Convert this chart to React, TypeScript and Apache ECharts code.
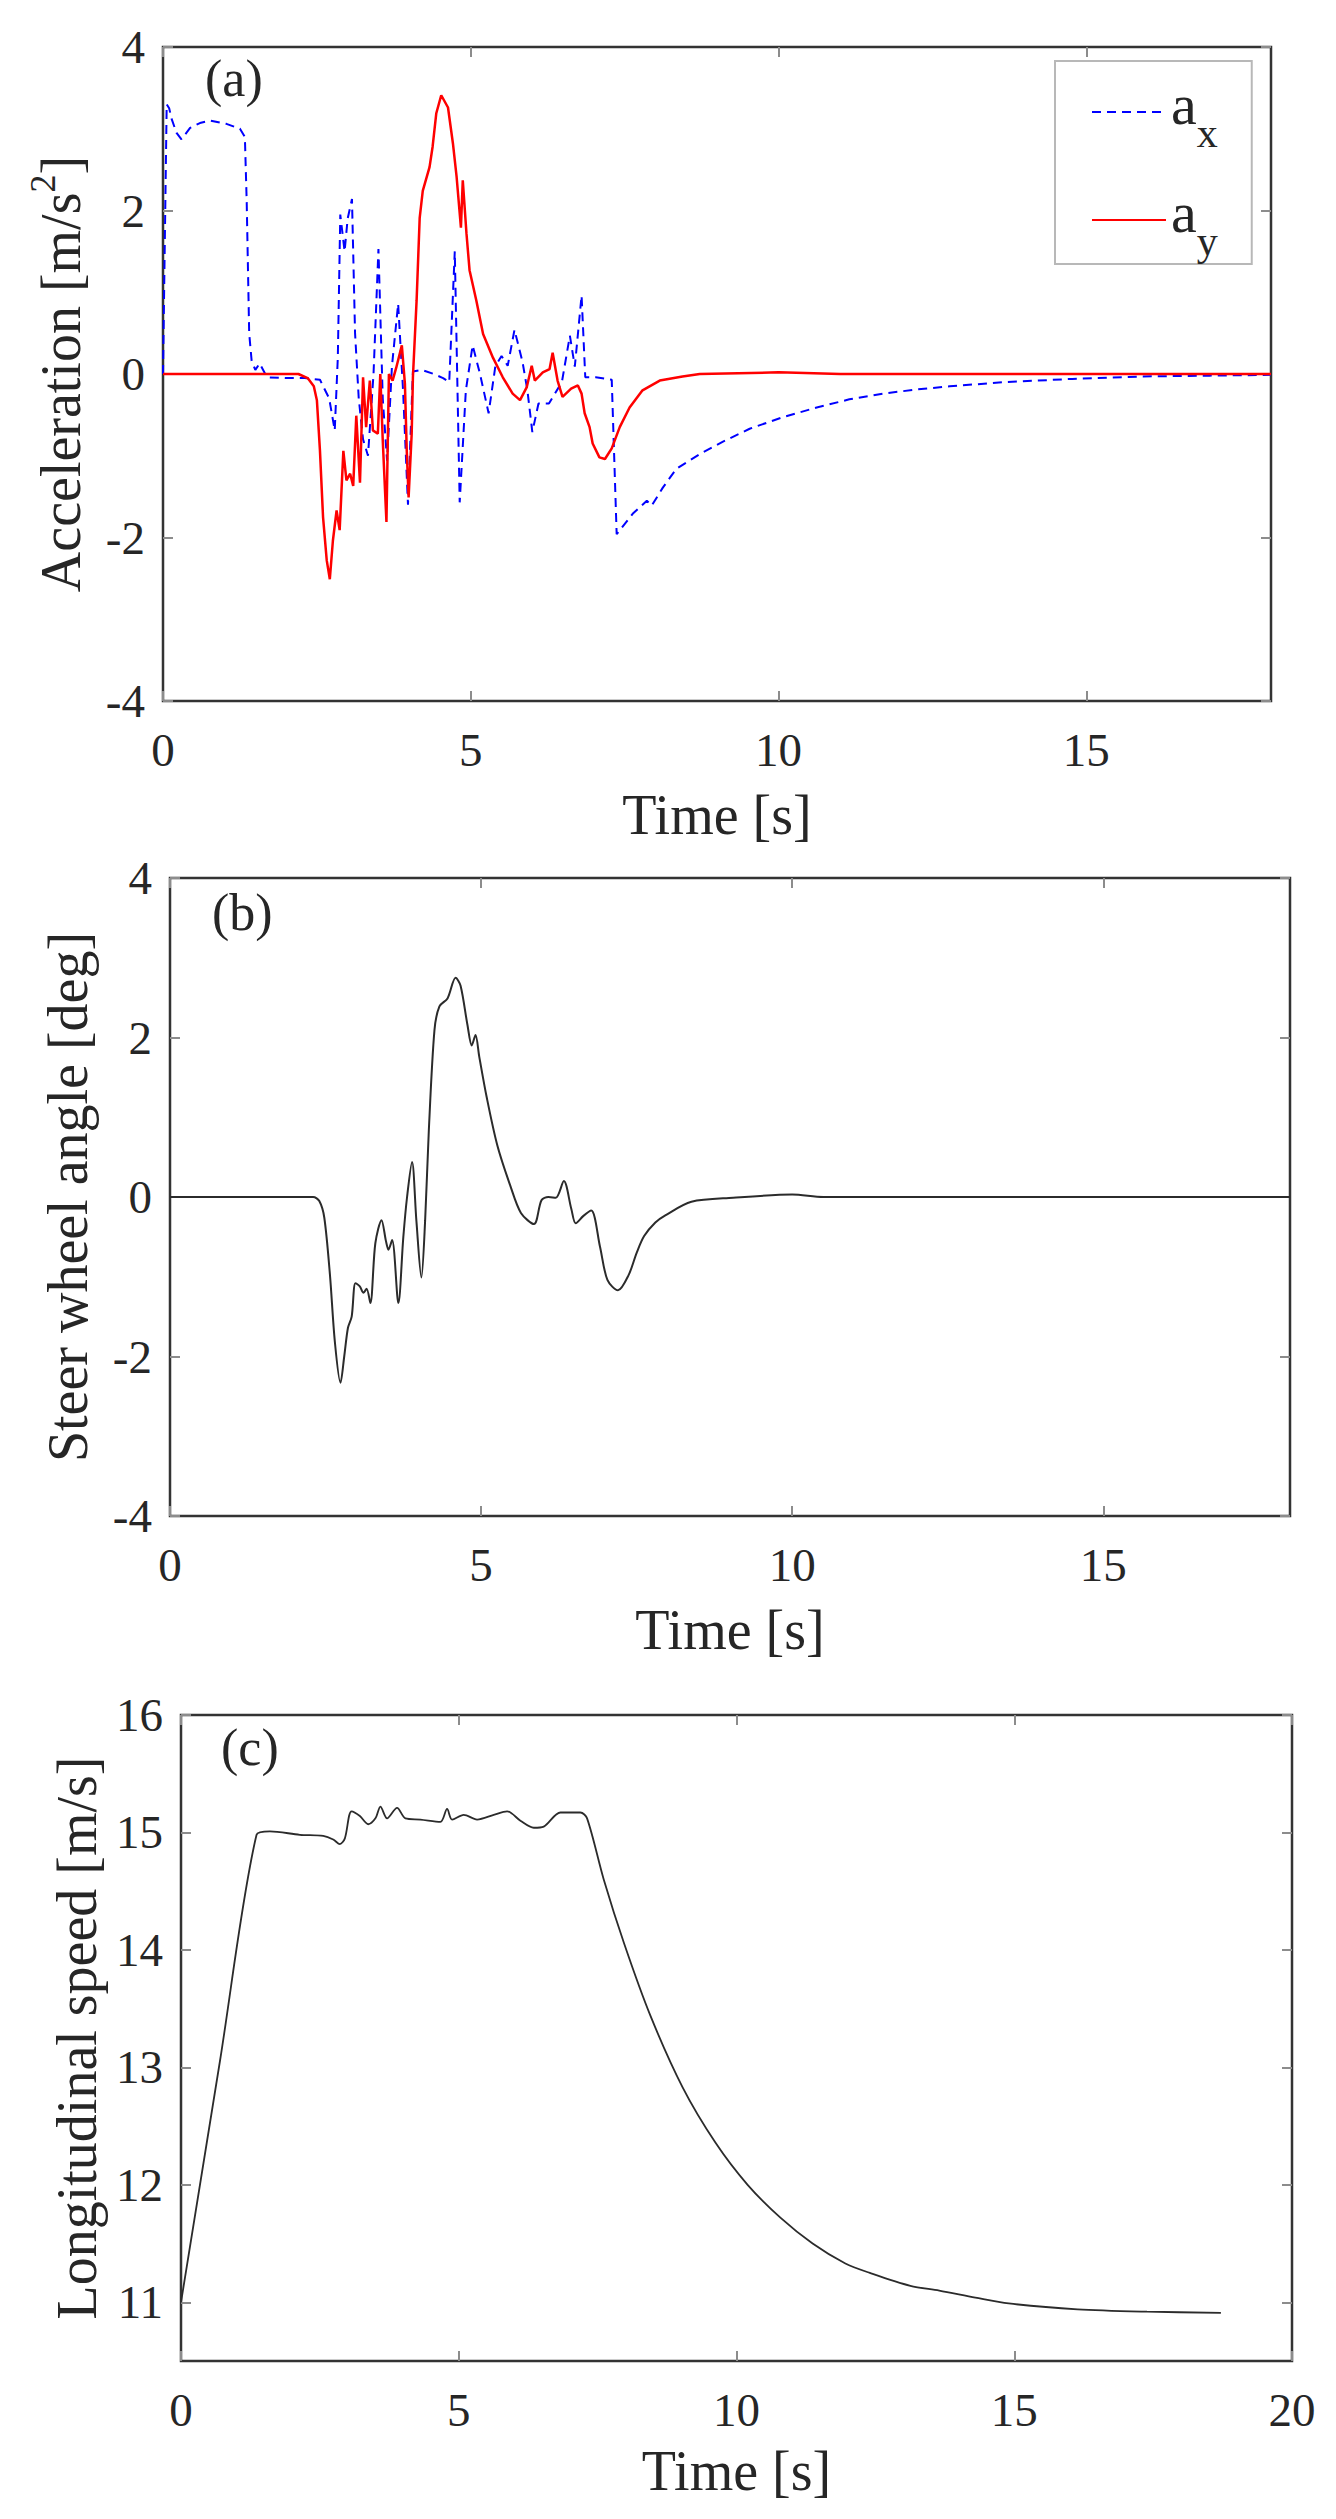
import * as echarts from 'echarts';
import { useEffect, useRef } from 'react';

// (a) longitudinal acceleration a_x
const axTime = [0, 0.06, 0.1, 0.14, 0.22, 0.3, 0.44, 0.6, 0.77, 1.03, 1.25, 1.33, 1.36, 1.4, 1.44, 1.5, 1.57, 1.69, 2.0, 2.3, 2.55, 2.7, 2.79, 2.84, 2.88, 2.95, 3.0, 3.07, 3.12, 3.18, 3.25, 3.33, 3.42, 3.5, 3.57, 3.64, 3.72, 3.82, 3.9, 3.98, 4.06, 4.2, 4.4, 4.55, 4.65, 4.74, 4.82, 4.92, 5.03, 5.15, 5.29, 5.4, 5.5, 5.6, 5.71, 5.84, 5.92, 6.0, 6.1, 6.27, 6.48, 6.61, 6.69, 6.8, 6.86, 7.03, 7.29, 7.37, 7.63, 7.86, 7.94, 8.12, 8.34, 8.72, 9.09, 9.53, 10.06, 10.62, 11.15, 11.69, 12.24, 12.78, 13.67, 14.77, 15.9, 17.0, 18.0];
const axValue = [0, 3.3, 3.25, 3.12, 2.95, 2.87, 3.01, 3.07, 3.1, 3.06, 3.0, 2.9, 2.1, 0.5, 0.16, 0.05, 0.13, -0.04, -0.05, -0.05, -0.07, -0.3, -0.69, 0.2, 1.95, 1.5, 1.9, 2.14, 0.5, -0.3, -0.8, -1.0, 0.0, 1.53, -0.3, -1.06, 0.1, 0.86, -0.2, -1.6, 0.03, 0.05, 0.0, -0.05, -0.1, 1.5, -1.57, -0.2, 0.35, 0.0, -0.48, 0.1, 0.22, 0.1, 0.54, 0.15, -0.2, -0.71, -0.36, -0.36, -0.1, 0.47, 0.09, 0.96, -0.04, -0.04, -0.07, -1.96, -1.71, -1.55, -1.61, -1.39, -1.16, -0.98, -0.83, -0.67, -0.53, -0.41, -0.31, -0.24, -0.19, -0.15, -0.1, -0.06, -0.03, -0.02, -0.01];

// (a) lateral acceleration a_y
const ayTime = [0, 2.2, 2.35, 2.45, 2.5, 2.55, 2.6, 2.66, 2.71, 2.76, 2.82, 2.87, 2.93, 2.98, 3.04, 3.09, 3.14, 3.2, 3.25, 3.3, 3.36, 3.41, 3.49, 3.53, 3.57, 3.63, 3.67, 3.73, 3.79, 3.88, 3.93, 3.96, 3.99, 4.04, 4.06, 4.12, 4.17, 4.22, 4.33, 4.38, 4.44, 4.52, 4.63, 4.71, 4.77, 4.84, 4.87, 4.93, 4.98, 5.09, 5.2, 5.36, 5.52, 5.68, 5.8, 5.91, 5.99, 6.04, 6.17, 6.28, 6.33, 6.41, 6.49, 6.63, 6.74, 6.8, 6.85, 6.93, 6.98, 7.09, 7.18, 7.29, 7.42, 7.58, 7.79, 8.07, 8.44, 8.72, 10.0, 11.0, 18.0];
const ayValue = [0, 0, -0.05, -0.15, -0.32, -0.94, -1.75, -2.28, -2.51, -2.04, -1.67, -1.91, -0.94, -1.3, -1.22, -1.37, -0.51, -1.33, -0.04, -0.65, -0.08, -0.69, -0.73, 0.0, -0.81, -1.81, 0.0, -0.08, 0.08, 0.35, -0.12, -0.94, -1.51, -0.73, -0.04, 0.9, 1.91, 2.24, 2.53, 2.78, 3.19, 3.41, 3.26, 2.82, 2.41, 1.79, 2.37, 1.72, 1.27, 0.9, 0.49, 0.2, -0.04, -0.24, -0.32, -0.16, 0.1, -0.08, 0.02, 0.06, 0.26, -0.08, -0.28, -0.18, -0.14, -0.24, -0.48, -0.65, -0.85, -1.02, -1.04, -0.91, -0.65, -0.41, -0.2, -0.08, -0.03, 0, 0.02, 0, 0];

// (b) steering wheel angle
const steerTime = [0, 2.3, 2.4, 2.48, 2.57, 2.65, 2.74, 2.8, 2.86, 2.92, 2.98, 3.05, 3.11, 3.16, 3.22, 3.3, 3.4, 3.47, 3.51, 3.57, 3.67, 3.75, 3.81, 3.89, 3.96, 4.04, 4.1, 4.16, 4.25, 4.33, 4.46, 4.59, 4.67, 4.78, 4.85, 4.91, 4.97, 5.09, 5.26, 5.47, 5.64, 5.85, 5.97, 6.08, 6.2, 6.33, 6.45, 6.52, 6.64, 6.77, 6.91, 7.03, 7.2, 7.37, 7.5, 7.62, 7.8, 7.96, 8.38, 9.05, 10.0, 10.5, 18.0];
const steerValue = [0, 0, -0.05, -0.26, -0.97, -1.82, -2.33, -2.0, -1.64, -1.5, -1.08, -1.12, -1.2, -1.15, -1.33, -0.58, -0.29, -0.55, -0.66, -0.54, -1.33, -0.5, 0, 0.44, -0.3, -1.01, -0.3, 0.84, 2.09, 2.39, 2.49, 2.75, 2.65, 2.16, 1.9, 2.03, 1.76, 1.25, 0.65, 0.14, -0.2, -0.34, -0.04, 0, -0.01, 0.2, -0.15, -0.33, -0.24, -0.17, -0.62, -1.04, -1.17, -0.98, -0.7, -0.49, -0.32, -0.23, -0.06, -0.01, 0.03, 0, 0];

// (c) longitudinal speed
const speedTime = [0, 0.7, 1.36, 1.6, 2.14, 2.56, 2.74, 2.86, 2.95, 3.07, 3.22, 3.37, 3.5, 3.59, 3.71, 3.89, 4.04, 4.31, 4.67, 4.79, 4.88, 5.09, 5.33, 5.63, 5.87, 6.11, 6.35, 6.53, 6.83, 7.19, 7.31, 7.61, 7.98, 8.45, 9.03, 9.62, 10.2, 10.79, 11.37, 11.96, 12.4, 13.13, 13.65, 14.3, 14.9, 16.14, 17.39, 18.72];
const speedValue = [11.0, 13.05, 14.98, 15.01, 14.98, 14.97, 14.94, 14.9, 14.95, 15.18, 15.14, 15.07, 15.12, 15.22, 15.12, 15.21, 15.12, 15.11, 15.09, 15.2, 15.11, 15.15, 15.11, 15.15, 15.18, 15.1, 15.04, 15.05, 15.17, 15.17, 15.12, 14.6, 14.05, 13.44, 12.83, 12.36, 12.0, 11.72, 11.5, 11.33, 11.25, 11.14, 11.1, 11.04, 10.99, 10.94, 10.92, 10.91];

const xTicksAB = [0, 5, 10, 15];
const xTicksC = [0, 5, 10, 15, 20];
const yTicksAB = [-4, -2, 0, 2, 4];
const yTicksC = [11, 12, 13, 14, 15, 16];

const FONT = 'Liberation Serif';
const INK = '#262626';

const pairs = (t: number[], v: number[]) => t.map((x, i) => [x, v[i]]);

export default function App() {
  const chartRef = useRef<HTMLDivElement>(null);

  useEffect(() => {
    if (!chartRef.current) return;
    const chart = echarts.init(chartRef.current, null, { renderer: 'svg' });

    const grids = [
      { left: 163, top: 47, width: 1108, height: 654 },
      { left: 170, top: 878, width: 1120, height: 638 },
      { left: 181, top: 1715, width: 1111, height: 646 },
    ];
    const xMax = [18, 18, 20];
    const xTicks = [xTicksAB, xTicksAB, xTicksC];
    const yMin = [-4, -4, 10.5];
    const yMax = [4, 4, 16];
    const yTicks = [yTicksAB, yTicksAB, yTicksC];
    const xNameGap = [86, 86, 82];
    const yNameGap = [66, 66, 63];
    const yNames = [
      '{m|Acceleration [m/s}{sup|2}{m|]}',
      '{m|Steer wheel angle [deg]}',
      '{m|Longitudinal speed [m/s]}',
    ];

    const tick = (values: number[]) => ({
      show: true,
      inside: true,
      length: 10,
      customValues: values,
      lineStyle: { color: '#8c8c8c', width: 2 },
    });
    const label = { fontSize: 47, fontFamily: FONT, color: INK };
    const noLine = { show: false, onZero: false };

    const xAxis: any[] = [];
    const yAxis: any[] = [];
    grids.forEach((_, i) => {
      xAxis.push({
        type: 'value', gridIndex: i, position: 'bottom', min: 0, max: xMax[i],
        axisLine: noLine, splitLine: { show: false },
        axisTick: tick(xTicks[i]),
        axisLabel: { ...label, margin: 25, customValues: xTicks[i] },
        name: 'Time [s]', nameLocation: 'middle', nameGap: xNameGap[i],
        nameTextStyle: { fontSize: 56, fontFamily: FONT, color: INK },
      });
      xAxis.push({
        type: 'value', gridIndex: i, position: 'top', min: 0, max: xMax[i],
        axisLine: noLine, splitLine: { show: false },
        axisTick: tick(xTicks[i]), axisLabel: { show: false },
      });
      yAxis.push({
        type: 'value', gridIndex: i, position: 'left', min: yMin[i], max: yMax[i],
        axisLine: noLine, splitLine: { show: false },
        axisTick: tick(yTicks[i]),
        axisLabel: { ...label, margin: 18, customValues: yTicks[i] },
        name: yNames[i], nameLocation: 'middle', nameRotate: 90, nameGap: yNameGap[i],
        nameTextStyle: {
          color: INK, fontFamily: FONT, fontSize: 56,
          rich: {
            m: { fontSize: 56, lineHeight: 72, fontFamily: FONT, color: INK },
            sup: { fontSize: 36, lineHeight: 36, verticalAlign: 'top', fontFamily: FONT, color: INK },
          },
        },
      });
      yAxis.push({
        type: 'value', gridIndex: i, position: 'right', min: yMin[i], max: yMax[i],
        axisLine: noLine, splitLine: { show: false },
        axisTick: tick(yTicks[i]), axisLabel: { show: false },
      });
    });

    chart.setOption({
      animation: false,
      backgroundColor: '#ffffff',
      grid: grids.map((g) => ({ ...g, show: true, borderColor: '#333333', borderWidth: 2.5, backgroundColor: 'transparent' })),
      xAxis,
      yAxis,
      legend: {
        data: ['ax', 'ay'],
        orient: 'vertical',
        left: 1055,
        top: 61,
        padding: [8, 34, 1, 36],
        itemWidth: 74,
        itemHeight: 14,
        itemGap: 22,
        itemStyle: { opacity: 0 },
        backgroundColor: '#ffffff',
        borderColor: '#b8b8b8',
        borderWidth: 2,
        formatter: (n: string) => (n === 'ax' ? '{a|a}{s|x}' : '{a|a}{s|y}'),
        textStyle: {
          color: INK,
          fontFamily: FONT,
          rich: {
            a: { fontSize: 58, height: 70, lineHeight: 86, verticalAlign: 'top', fontFamily: FONT, color: INK },
            s: { fontSize: 42, height: 44, lineHeight: 86, verticalAlign: 'bottom', fontFamily: FONT, color: INK },
          },
        },
      },
      graphic: [
        { type: 'text', x: 205, y: 78, style: { text: '(a)', font: `52px "${FONT}"`, fill: INK, verticalAlign: 'middle' } },
        { type: 'text', x: 212, y: 912, style: { text: '(b)', font: `52px "${FONT}"`, fill: INK, verticalAlign: 'middle' } },
        { type: 'text', x: 221, y: 1747, style: { text: '(c)', font: `52px "${FONT}"`, fill: INK, verticalAlign: 'middle' } },
      ],
      series: [
        {
          name: 'ax', type: 'line', xAxisIndex: 0, yAxisIndex: 0,
          data: pairs(axTime, axValue), symbol: 'none',
          lineStyle: { color: '#0000ff', width: 2, type: [9, 6] },
          itemStyle: { color: '#0000ff' },
        },
        {
          name: 'ay', type: 'line', xAxisIndex: 0, yAxisIndex: 0,
          data: pairs(ayTime, ayValue), symbol: 'none',
          lineStyle: { color: '#ff0000', width: 2.5 },
          itemStyle: { color: '#ff0000' },
        },
        {
          name: 'steer', type: 'line', xAxisIndex: 2, yAxisIndex: 2,
          data: pairs(steerTime, steerValue), symbol: 'none',
          smooth: 0.3,
          lineStyle: { color: '#2b2b2b', width: 2 },
        },
        {
          name: 'speed', type: 'line', xAxisIndex: 4, yAxisIndex: 4,
          data: pairs(speedTime, speedValue), symbol: 'none',
          smooth: 0.3,
          lineStyle: { color: '#2b2b2b', width: 1.8 },
        },
      ],
    });

    return () => {
      chart.dispose();
    };
  }, []);

  return (
    <div
      ref={chartRef}
      style={{ position: 'absolute', left: 0, top: 0, width: '1336px', height: '2519px' }}
    />
  );
}
